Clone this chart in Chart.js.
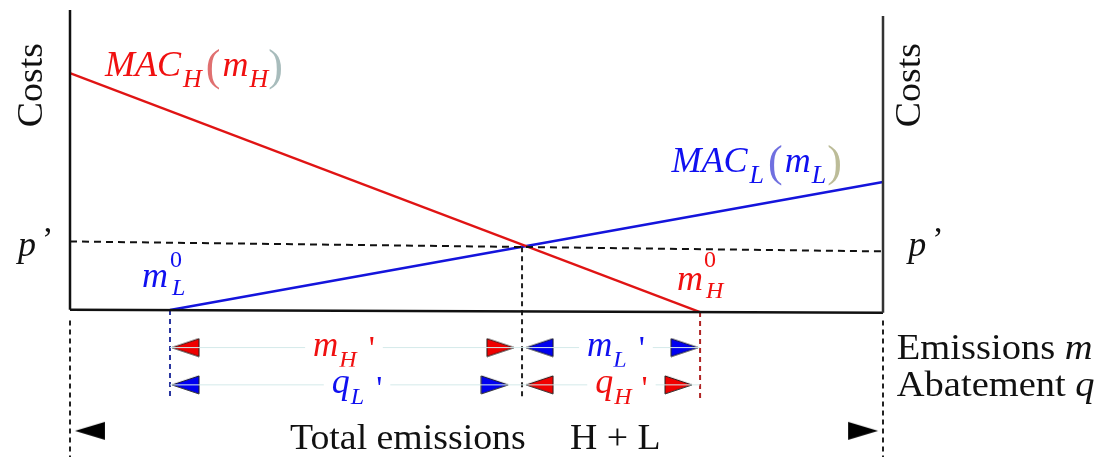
<!DOCTYPE html>
<html>
<head>
<meta charset="utf-8">
<script src="https://cdn.jsdelivr.net/npm/chart.js@4.4.1/dist/chart.umd.min.js"></script>
<style>
  html, body { margin: 0; background: #fff; }
  #wrap { width: 1106px; height: 457px; }
</style>
</head>
<body>
<div id="wrap"><canvas id="c"></canvas></div>
<script>
// emissions run 0..100 between the two cost axes, costs are 0 on the base line
var axisTop = [100, 98];          // top of left / right cost axis
var baseY = [0.3, -0.7];          // base line at left / right axis
var macH = [{x: 0, y: 79}, {x: 77.5, y: -0.5}];
var macL = [{x: 12.3, y: 0.2}, {x: 100, y: 42.8}];
var priceP = [23, 19.7];          // p' at left / right axis
var mL0 = 12.3, mH0 = 77.5;       // zero-abatement emissions
var mStar = 55.6, pStar = 21.1;   // where the two MAC curves cross
var rowY = [-12.3, -24.7, -40];   // m' row, q' row, total row
var guideEnd = -29.5;
var outerDash = [-3.3, -49];

var RED = '#e01414', BLUE = '#1414dc', BLACK = '#111';
var RED_T = '#f01010', BLUE_T = '#1010f0';
var LIGHT = '#d4eaea';
var SERIF = '"Liberation Serif", "DejaVu Serif", serif';

function arrowImg(color, dir, len, h, border) {
  var c = document.createElement('canvas');
  c.width = 2 * len + 2;
  c.height = h + 2;
  var g = c.getContext('2d');
  var cx = len + 1, cy = h / 2 + 1;
  g.beginPath();
  g.moveTo(cx, cy);
  g.lineTo(cx - dir * len, 1);
  g.lineTo(cx - dir * len, h + 1);
  g.closePath();
  g.fillStyle = color;
  g.fill();
  if (border) {
    g.lineWidth = 1;
    g.strokeStyle = '#222';
    g.stroke();
  }
  return c;
}

var A = {
  redL: arrowImg('#f00000', -1, 27, 18, true),
  redR: arrowImg('#f00000', 1, 27, 18, true),
  blueL: arrowImg('#0000f0', -1, 27, 18, true),
  blueR: arrowImg('#0000f0', 1, 27, 18, true),
  blackL: arrowImg('#000', -1, 30, 18, false),
  blackR: arrowImg('#000', 1, 30, 18, false)
};

function seg(x1, y1, x2, y2, color, width, dash) {
  return {
    data: [{x: x1, y: y1}, {x: x2, y: y2}],
    showLine: true, borderColor: color, borderWidth: width,
    borderDash: dash || [], pointRadius: 0, clip: false
  };
}

// arrows sit with their tips on the guide lines
function arrows(x1, x2, y, left, right) {
  var imgs = [left, right];
  return {
    data: [{x: x1, y: y}, {x: x2, y: y}],
    showLine: false, pointRadius: 5, clip: false,
    pointStyle: function (ctx) { return imgs[ctx.dataIndex]; }
  };
}

var datasets = [
  seg(mL0, rowY[0], mStar, rowY[0], LIGHT, 1),
  seg(mStar, rowY[0], mH0, rowY[0], LIGHT, 1),
  seg(mL0, rowY[1], mStar, rowY[1], LIGHT, 1),
  seg(mStar, rowY[1], mH0, rowY[1], LIGHT, 1),
  seg(0, axisTop[0], 0, baseY[0], BLACK, 2.5),
  seg(100, axisTop[1], 100, baseY[1], '#333', 2.5),
  seg(0, baseY[0], 100, baseY[1], BLACK, 2.5),
  seg(0, priceP[0], 100, priceP[1], BLACK, 2, [7, 5]),
  seg(mStar, pStar, mStar, guideEnd, '#222', 2, [5, 4]),
  seg(mL0, macL[0].y, mL0, guideEnd, '#2a36a0', 2, [5, 4]),
  seg(mH0, macH[1].y, mH0, guideEnd, '#b02424', 2, [5, 4]),
  seg(0, outerDash[0], 0, outerDash[1], '#222', 2, [5, 4]),
  seg(100, outerDash[0], 100, outerDash[1], '#222', 2, [5, 4]),
  {data: macH, showLine: true, borderColor: RED, borderWidth: 2.2, pointRadius: 0, clip: false},
  {data: macL, showLine: true, borderColor: BLUE, borderWidth: 2.5, pointRadius: 0, clip: false},
  arrows(mL0 + 0.25, mStar - 1, rowY[0], A.redL, A.redR),
  arrows(mStar + 0.5, mH0 - 0.25, rowY[0], A.blueL, A.blueR),
  arrows(mL0 + 0.25, mStar - 1.7, rowY[1], A.blueL, A.blueR),
  arrows(mStar + 0.5, mH0 - 1, rowY[1], A.redL, A.redR),
  arrows(0.6, 99.4, rowY[2], A.blackL, A.blackR)
];

var F_TXT = '35px ' + SERIF;
var F_IT = 'italic 36px ' + SERIF;
var F_SUB = 'italic 26px ' + SERIF;
var F_SM = 'italic 24px ' + SERIF;
var F_PAR = '44px ' + SERIF;
var F_PR = '34px ' + SERIF;

var labels = [
  {x: -3.44, y: 75, rot: true, sx: 1.08, parts: [{t: 'Costs', f: F_TXT, c: BLACK}]},
  {x: 104.5, y: 75, rot: true, sx: 1.08, parts: [{t: 'Costs', f: F_TXT, c: BLACK}]},
  {x: -6.4, y: 18.3, parts: [{t: 'p', f: F_IT, c: BLACK}, {t: '\u2019', f: F_PR, c: BLACK, dx: 6, dy: -6}]},
  {x: 103.1, y: 18.3, parts: [{t: 'p', f: F_IT, c: BLACK}, {t: '\u2019', f: F_PR, c: BLACK, dx: 6, dy: -6}]},
  {x: 4.3, y: 78, parts: [
    {t: 'MAC', f: F_IT, c: RED_T}, {t: 'H', f: F_SUB, c: RED_T, dx: 2, dy: 11},
    {t: '(', f: F_PAR, c: '#e07070', dx: 4, dy: 4}, {t: 'm', f: F_IT, c: RED_T, dx: 2},
    {t: 'H', f: F_SUB, c: RED_T, dx: 1, dy: 11}, {t: ')', f: F_PAR, c: '#a8bcbc', dx: 0, dy: 4}]},
  {x: 74.0, y: 46, parts: [
    {t: 'MAC', f: F_IT, c: BLUE_T}, {t: 'L', f: F_SUB, c: BLUE_T, dx: 2, dy: 11},
    {t: '(', f: F_PAR, c: '#7070e0', dx: 4, dy: 4}, {t: 'm', f: F_IT, c: BLUE_T, dx: 2},
    {t: 'L', f: F_SUB, c: BLUE_T, dx: 1, dy: 11}, {t: ')', f: F_PAR, c: '#bcbc98', dx: 1, dy: 4}]},
  {x: 8.86, y: 7.7, parts: [
    {t: 'm', f: F_IT, c: BLUE_T}, {t: '0', f: '24px ' + SERIF, c: BLUE_T, dx: 2, dy: -20},
    {t: 'L', f: F_SM, c: BLUE_T, same: true, dx: 2, dy: 8}]},
  {x: 74.66, y: 6.7, parts: [
    {t: 'm', f: F_IT, c: RED_T}, {t: '0', f: '24px ' + SERIF, c: RED_T, dx: 1, dy: -23},
    {t: 'H', f: F_SM, c: RED_T, same: true, dx: 2, dy: 8}]},
  {x: 29.9, y: -15, bg: true, parts: [
    {t: 'm', f: 'italic 35px ' + SERIF, c: RED_T}, {t: 'H', f: F_SM, c: RED_T, dx: 1, dy: 11},
    {t: "'", f: F_PR, c: RED_T, dx: 12, dy: 3}]},
  {x: 63.6, y: -15, bg: true, parts: [
    {t: 'm', f: 'italic 35px ' + SERIF, c: BLUE_T}, {t: 'L', f: F_SM, c: BLUE_T, dx: 1, dy: 11},
    {t: "'", f: F_PR, c: BLUE_T, dx: 12, dy: 3}]},
  {x: 32.2, y: -27.3, bg: true, parts: [
    {t: 'q', f: F_IT, c: BLUE_T}, {t: 'L', f: F_SM, c: BLUE_T, dx: 1, dy: 11},
    {t: "'", f: F_PR, c: BLUE_T, dx: 12, dy: 6}]},
  {x: 64.6, y: -27.3, bg: true, parts: [
    {t: 'q', f: F_IT, c: RED_T}, {t: 'H', f: F_SM, c: RED_T, dx: 1, dy: 11},
    {t: "'", f: F_PR, c: RED_T, dx: 10, dy: 6}]},
  {x: 101.7, y: -16, sx: 1.1, parts: [{t: 'Emissions ', f: F_TXT, c: BLACK}, {t: 'm', f: 'italic 35px ' + SERIF, c: BLACK}]},
  {x: 101.7, y: -28.3, sx: 1.1, parts: [{t: 'Abatement ', f: F_TXT, c: BLACK}, {t: 'q', f: 'italic 35px ' + SERIF, c: BLACK}]},
  {x: 27.06, y: -46, sx: 1.08, parts: [{t: 'Total emissions', f: F_TXT, c: BLACK}]},
  {x: 61.5, y: -46, sx: 1.08, parts: [{t: 'H + L', f: F_TXT, c: BLACK}]}
];

function layout(ctx, parts) {
  var cx = 0, lastX = 0, out = [];
  parts.forEach(function (p) {
    ctx.font = p.f;
    var px = (p.same ? lastX : cx) + (p.dx || 0);
    out.push(px);
    lastX = p.same ? lastX : px;
    cx = Math.max(cx, px + ctx.measureText(p.t).width);
  });
  return {xs: out, width: cx};
}

var textPlugin = {
  id: 'texts',
  afterDatasetsDraw: function (chart) {
    var ctx = chart.ctx, sx = chart.scales.x, sy = chart.scales.y;
    labels.forEach(function (l) {
      var px = sx.getPixelForValue(l.x), py = sy.getPixelForValue(l.y);
      ctx.save();
      ctx.textBaseline = 'alphabetic';
      ctx.textAlign = 'left';
      ctx.translate(px, py);
      if (l.rot) ctx.rotate(-Math.PI / 2);
      ctx.scale(l.sx || 1, 1);
      var lay = layout(ctx, l.parts);
      var x0 = l.rot ? -lay.width / 2 : 0;
      if (l.bg) {
        ctx.fillStyle = '#fff';
        ctx.fillRect(x0 - 8, -26, lay.width + 16, 44);
      }
      l.parts.forEach(function (p, i) {
        ctx.font = p.f;
        ctx.fillStyle = p.c;
        ctx.fillText(p.t, x0 + lay.xs[i], p.dy || 0);
      });
      ctx.restore();
    });
  }
};

new Chart(document.getElementById('c'), {
  type: 'scatter',
  data: {datasets: datasets},
  options: {
    responsive: true,
    maintainAspectRatio: false,
    animation: false,
    events: [],
    layout: {padding: {left: 70, right: 223, top: 10, bottom: 0}},
    scales: {
      x: {type: 'linear', min: 0, max: 100, display: false},
      y: {type: 'linear', min: -46.7, max: 100, display: false}
    },
    plugins: {legend: {display: false}, tooltip: {enabled: false}}
  },
  plugins: [textPlugin]
});
</script>
</body>
</html>
